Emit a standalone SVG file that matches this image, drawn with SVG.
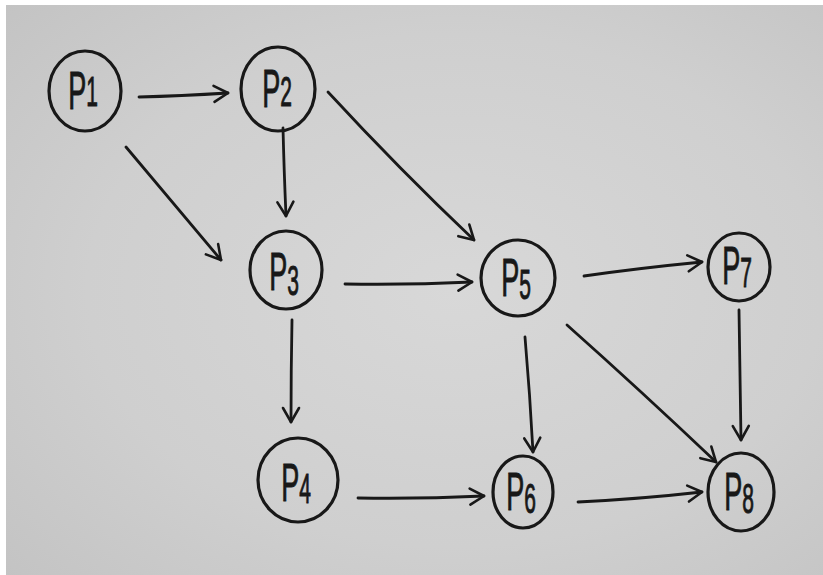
<svg xmlns="http://www.w3.org/2000/svg" width="823" height="575" viewBox="0 0 823 575">
  <defs>
    <radialGradient id="paper" cx="0.55" cy="0.5" r="0.75">
      <stop offset="0" stop-color="#d8d8d8"/>
      <stop offset="0.6" stop-color="#cfcfcf"/>
      <stop offset="1" stop-color="#c3c3c3"/>
    </radialGradient>
    <marker id="head" viewBox="0 0 20 20" refX="18" refY="10" markerWidth="20" markerHeight="20" markerUnits="userSpaceOnUse" orient="auto">
      <path d="M4,2 L18,10 L4,18" fill="none" stroke="#181818" stroke-width="2.6" stroke-linecap="round" stroke-linejoin="round"/>
    </marker>
    <style>
      .node ellipse { fill: none; stroke: #181818; stroke-width: 3.2; }
      .node text { font-family: "Liberation Sans", sans-serif; font-size: 54px; fill: #181818; stroke: #181818; stroke-width: 1; text-anchor: middle; }
      .node tspan.sub { font-size: 42px; }
      .edge { fill: none; stroke: #181818; stroke-width: 2.8; stroke-linecap: round; marker-end: url(#head); }
    </style>
  </defs>

  <!-- page and photographed board -->
  <rect x="0" y="0" width="823" height="575" fill="#ffffff"/>
  <rect x="6" y="5" width="817" height="570" fill="url(#paper)"/>

  <!-- connectors -->
  <g id="edges">
    <path class="edge" d="M139,97 Q180,96 228,93"/>
    <path class="edge" d="M126,147 Q175,205 221,260"/>
    <path class="edge" d="M283,128 Q284,170 286,216"/>
    <path class="edge" d="M328,92 Q400,170 474,240"/>
    <path class="edge" d="M345,284 Q410,285 472,282"/>
    <path class="edge" d="M584,276 Q640,268 702,262"/>
    <path class="edge" d="M292,320 Q291,370 291,422"/>
    <path class="edge" d="M525,337 Q530,395 533,452"/>
    <path class="edge" d="M567,325 Q640,390 716,462"/>
    <path class="edge" d="M739,310 Q740,375 741,440"/>
    <path class="edge" d="M358,498 Q420,499 484,496"/>
    <path class="edge" d="M578,502 Q640,499 702,492"/>
  </g>

  <!-- nodes: labels are narrow, tall letters -->
  <g id="P1" class="node">
    <ellipse cx="85" cy="91" rx="36" ry="40"/>
    <text transform="translate(83,109) scale(0.5,1)">P<tspan class="sub" dy="-3">1</tspan></text>
  </g>
  <g id="P2" class="node">
    <ellipse cx="278" cy="89" rx="37" ry="42"/>
    <text transform="translate(277,107) scale(0.5,1)">P<tspan class="sub" dy="-1">2</tspan></text>
  </g>
  <g id="P3" class="node">
    <ellipse cx="286" cy="270" rx="36" ry="39"/>
    <text transform="translate(284,290) scale(0.5,1)">P<tspan class="sub" dy="5">3</tspan></text>
  </g>
  <g id="P5" class="node">
    <ellipse cx="518" cy="278" rx="37" ry="38"/>
    <text transform="translate(516,296) scale(0.5,1)">P<tspan class="sub" dy="3">5</tspan></text>
  </g>
  <g id="P7" class="node">
    <ellipse cx="739" cy="267" rx="31" ry="34"/>
    <text transform="translate(737,284) scale(0.5,1)">P<tspan class="sub" dy="3">7</tspan></text>
  </g>
  <g id="P4" class="node">
    <ellipse cx="298" cy="480" rx="40" ry="42"/>
    <text transform="translate(296,501) scale(0.5,1)">P<tspan class="sub" dy="2">4</tspan></text>
  </g>
  <g id="P6" class="node">
    <ellipse cx="523" cy="492" rx="30" ry="36"/>
    <text transform="translate(521,510) scale(0.5,1)">P<tspan class="sub" dy="3">6</tspan></text>
  </g>
  <g id="P8" class="node">
    <ellipse cx="741" cy="492" rx="33" ry="39"/>
    <text transform="translate(739,510) scale(0.5,1)">P<tspan class="sub" dy="3">8</tspan></text>
  </g>
</svg>
